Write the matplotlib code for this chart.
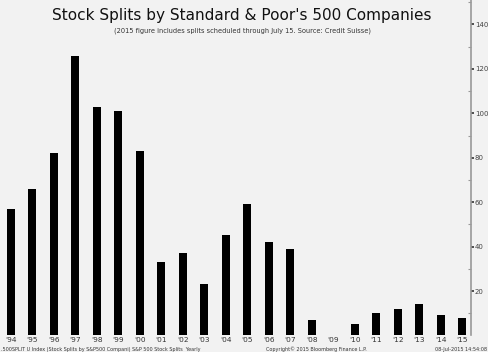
import matplotlib.pyplot as plt
import numpy as np

years = ["'94", "'95", "'96", "'97", "'98", "'99", "'00", "'01", "'02", "'03", "'04",
         "'05", "'06", "'07", "'08", "'09", "'10", "'11", "'12", "'13", "'14", "'15"]
splits = [57, 66, 82, 126, 103, 101, 83, 33, 37, 23, 45, 59, 42, 39, 7, 0, 5, 10, 12, 14, 9, 8]
yticks = [20, 40, 60, 80, 100, 120, 140]

bg = "#f2f2f2"
fig = plt.figure(figsize=(4.88, 3.52), dpi=100, facecolor=bg)
ax = fig.add_axes([0, 0.047, 0.9646, 0.953], facecolor=bg)

x = np.arange(len(years))
ax.bar(x, splits, width=0.37, color="black")

ax.set_xlim(-0.5, len(years) - 0.6)
ax.set_ylim(0, 151)

for s in ["left", "top", "bottom"]:
    ax.spines[s].set_visible(False)
ax.spines["right"].set_color("#999999")
ax.spines["right"].set_linewidth(1.2)

ax.yaxis.tick_right()
ax.set_yticks(yticks)
ax.set_yticklabels([str(v) for v in yticks])
ax.set_yticks(np.arange(10, 151, 20), minor=True)
ax.tick_params(axis="y", which="major", direction="out", length=2, width=1.2,
               color="#333333", labelsize=5, labelcolor="#444444", pad=1)
ax.tick_params(axis="y", which="minor", direction="in", length=2, width=0.8, color="#999999")

ax.set_xticks(x)
ax.set_xticklabels(years)
ax.tick_params(axis="x", length=0, labelsize=5.3, labelcolor="#333333", pad=0.8)

fig.text(0.496, 0.955, "Stock Splits by Standard & Poor's 500 Companies",
         ha="center", va="center", fontsize=11, color="#111111")
fig.text(0.496, 0.914, "(2015 figure includes splits scheduled through July 15. Source: Credit Suisse)",
         ha="center", va="center", fontsize=4.8, color="#333333")

# footer line
fig.text(0.002, 0.001, ".500SPLIT U Index (Stock Splits by S&P500 Compani) S&P 500 Stock Splits  Yearly",
         ha="left", va="bottom", fontsize=3.5, color="#333333")
fig.text(0.648, 0.001, "Copyright\u00a9 2015 Bloomberg Finance L.P.",
         ha="center", va="bottom", fontsize=3.5, color="#333333")
fig.text(0.998, 0.001, "08-Jul-2015 14:54:08",
         ha="right", va="bottom", fontsize=3.5, color="#333333")

fig.savefig("out.png", dpi=100, facecolor=bg)
